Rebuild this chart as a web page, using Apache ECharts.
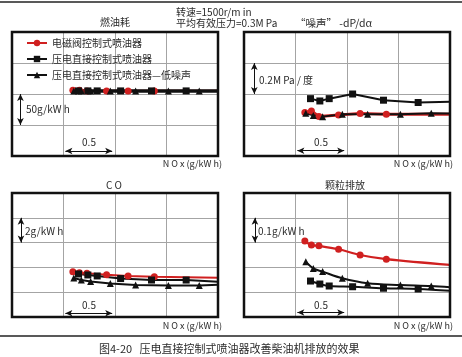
<!DOCTYPE html>
<html><head><meta charset="utf-8">
<script src="https://cdn.jsdelivr.net/npm/echarts@6/dist/echarts.min.js"></script>
<style>html,body{margin:0;padding:0;background:#fff}#c{width:462px;height:357px}</style>
</head><body><div id="c"></div>
<script>
// ---- data ----
const seriesNames = ['电磁阀控制式喷油器', '压电直接控制式喷油器', '压电直接控制式喷油器—低噪声'];
const noxRed = [0.65, 0.72, 0.80, 1.01, 1.24, 1.52];
const noxSquare = [0.71, 0.81, 0.91, 1.16, 1.49, 1.86];
const noxTriangle = [0.66, 0.74, 0.84, 1.05, 1.32, 1.67, 2.00];
const noxEnd = 2.2; // trend lines run to the right edge

const fuelRed = [206, 206, 205, 205, 205, 205];
const fuelSquare = [205, 205, 205, 205, 205, 205];
const fuelTriangle = [205, 205, 205, 205, 205, 205, 205];
const fuelEnd = [205, 205, 205];

const noiseRed = [0.28, 0.29, 0.255, 0.265, 0.275, 0.27];
const noiseSquare = [0.37, 0.355, 0.37, 0.40, 0.36, 0.345];
const noiseTriangle = [0.276, 0.262, 0.254, 0.27, 0.27, 0.27, 0.276];
const noiseEnd = [0.27, 0.35, 0.274];

const coRed = [3.65, 3.57, 3.52, 3.41, 3.31, 3.25];
const coSquare = [3.47, 3.39, 3.31, 3.10, 2.98, 2.98];
const coTriangle = [3.14, 2.98, 2.86, 2.70, 2.58, 2.55, 2.55];
const coEnd = [3.17, 2.85, 2.6];

const pmRed = [0.306, 0.290, 0.287, 0.273, 0.250, 0.233];
const pmSquare = [0.145, 0.133, 0.125, 0.122, 0.116, 0.113];
const pmTriangle = [0.223, 0.196, 0.183, 0.156, 0.136, 0.129, 0.125];
const pmEnd = [0.21, 0.106, 0.12];

const panelTitles = ['燃油耗', '“噪声” -dP/dα', 'C O', '颗粒排放'];
const scaleLabels = ['50g/kW h', '0.2M Pa / 度', '2g/kW h', '0.1g/kW h'];
const xScaleLabel = '0.5';
const xAxisLabel = 'N O x (g/kW h)';
const header1 = '转速=1500r/m in';
const header2 = '平均有效压力=0.3M Pa';
const caption = '图4-20   压电直接控制式喷油器改善柴油机排放的效果';

// ---- layout ----
const FONT = 'Noto Sans CJK SC';
const TXT = '#2a2a2a';
const RED = '#d02020';
const BLK = '#111';
const panels = [
  { grid: {left: 12, top: 32, width: 206, height: 124}, y: [100, 300, 50], red: fuelRed, sq: fuelSquare, tri: fuelTriangle, end: fuelEnd, vx: 0.09, vy: [150, 200], hy: 108, lw: 3, rw: 2.2 },
  { grid: {left: 244, top: 32, width: 206, height: 124}, y: [0, 0.8, 0.2], red: noiseRed, sq: noiseSquare, tri: noiseTriangle, end: noiseEnd, vx: 0.11, vy: [0.4, 0.6], hy: 0.034, lw: 2, rw: 3 },
  { grid: {left: 12, top: 193, width: 206, height: 124}, y: [0, 10, 2], red: coRed, sq: coSquare, tri: coTriangle, end: coEnd, vx: 0.096, vy: [6, 8], hy: 0.3, lw: 2, rw: 2 },
  { grid: {left: 244, top: 193, width: 206, height: 124}, y: [0, 0.5, 0.1], red: pmRed, sq: pmSquare, tri: pmTriangle, end: pmEnd, vx: 0.117, vy: [0.3, 0.4], hy: 0.018, lw: 2, rw: 2.2, smooth: 0.35 },
];

function pts(xs, ys, end) {
  return xs.map((x, i) => [x, ys[i]]).concat([{ value: [noxEnd, end], symbol: 'none' }]);
}

const grids = [], xAxes = [], yAxes = [], series = [];
panels.forEach((p, i) => {
  grids.push(Object.assign({ show: true, borderColor: BLK, borderWidth: 2.5, z: 5 }, p.grid));
  xAxes.push({ gridIndex: i, type: 'value', min: 0, max: 2.2, interval: 0.55,
    axisLine: {show: false}, axisTick: {show: false}, axisLabel: {show: false},
    splitLine: {show: true, lineStyle: {color: '#a4a4a4', width: 1}} });
  yAxes.push({ gridIndex: i, type: 'value', min: p.y[0], max: p.y[1], interval: p.y[2],
    axisLine: {show: false}, axisTick: {show: false}, axisLabel: {show: false},
    splitLine: {show: true, lineStyle: {color: '#a4a4a4', width: 1}} });
  const common = { type: 'line', xAxisIndex: i, yAxisIndex: i, smooth: p.smooth || false, showAllSymbol: true };
  series.push(Object.assign({}, common, { name: seriesNames[0], data: pts(noxRed, p.red, p.end[0]),
    symbol: 'circle', symbolSize: 7, itemStyle: {color: RED}, lineStyle: {color: RED, width: p.rw} }));
  series.push(Object.assign({}, common, { name: seriesNames[1], data: pts(noxSquare, p.sq, p.end[1]),
    symbol: 'rect', symbolSize: 7, itemStyle: {color: BLK}, lineStyle: {color: BLK, width: p.lw} }));
  series.push(Object.assign({}, common, { name: seriesNames[2], data: pts(noxTriangle, p.tri, p.end[2]),
    symbol: 'triangle', symbolSize: 7, itemStyle: {color: BLK}, lineStyle: {color: BLK, width: p.lw},
    markLine: { silent: true, symbol: ['arrow', 'arrow'], symbolSize: [5, 7], animation: false,
      lineStyle: {color: BLK, width: 1, type: 'solid'}, label: {show: false},
      data: [
        [{coord: [p.vx, p.vy[0]]}, {coord: [p.vx, p.vy[1]]}],
        [{coord: [0.57, p.hy]}, {coord: [1.07, p.hy]}]
      ] } }));
});

const txt = (x, y, t, opt) => ({ type: 'text', x, y, style: Object.assign({ text: t, fill: TXT, font: '10px "' + FONT + '"', textVerticalAlign: 'middle' }, opt || {}) , z: 20});

const graphic = [
  { type: 'line', shape: {x1: 0, y1: 2, x2: 462, y2: 2}, style: {stroke: '#222', lineWidth: 1.5} },
  { type: 'line', shape: {x1: 0, y1: 336, x2: 462, y2: 336}, style: {stroke: '#222', lineWidth: 1.5} },
  txt(176, 12.5, header1),
  txt(176, 23.5, header2),
  txt(115, 22, panelTitles[0], {textAlign: 'center'}),
  txt(295, 23.5, panelTitles[1], {font: '10.5px "' + FONT + '"'}),
  txt(114, 185.5, panelTitles[2], {textAlign: 'center'}),
  txt(345, 185, panelTitles[3], {textAlign: 'center'}),
  txt(26, 109, scaleLabels[0]),
  txt(259, 80, scaleLabels[1]),
  txt(25, 231.5, scaleLabels[2]),
  txt(258, 231, scaleLabels[3]),
  txt(89, 142, xScaleLabel, {textAlign: 'center'}),
  txt(321, 142.5, xScaleLabel, {textAlign: 'center'}),
  txt(89, 305, xScaleLabel, {textAlign: 'center'}),
  txt(321, 305, xScaleLabel, {textAlign: 'center'}),
  txt(222, 163.5, xAxisLabel, {textAlign: 'right', font: '9px "' + FONT + '"'}),
  txt(453, 163.5, xAxisLabel, {textAlign: 'right', font: '9px "' + FONT + '"'}),
  txt(222, 325.5, xAxisLabel, {textAlign: 'right', font: '9px "' + FONT + '"'}),
  txt(453, 325.5, xAxisLabel, {textAlign: 'right', font: '9px "' + FONT + '"'}),
  txt(99, 349, caption, {font: '11px "' + FONT + '"'})
];

const chart = echarts.init(document.getElementById('c'), null, {renderer: 'canvas'});
chart.setOption({
  animation: false,
  backgroundColor: '#fff',
  legend: { data: seriesNames, orient: 'vertical', left: 26, top: 38, padding: 0,
    itemWidth: 20, itemHeight: 8, itemGap: 6,
    textStyle: {fontFamily: FONT, fontSize: 10, color: TXT} },
  grid: grids, xAxis: xAxes, yAxis: yAxes, series, graphic
});
</script></body></html>
